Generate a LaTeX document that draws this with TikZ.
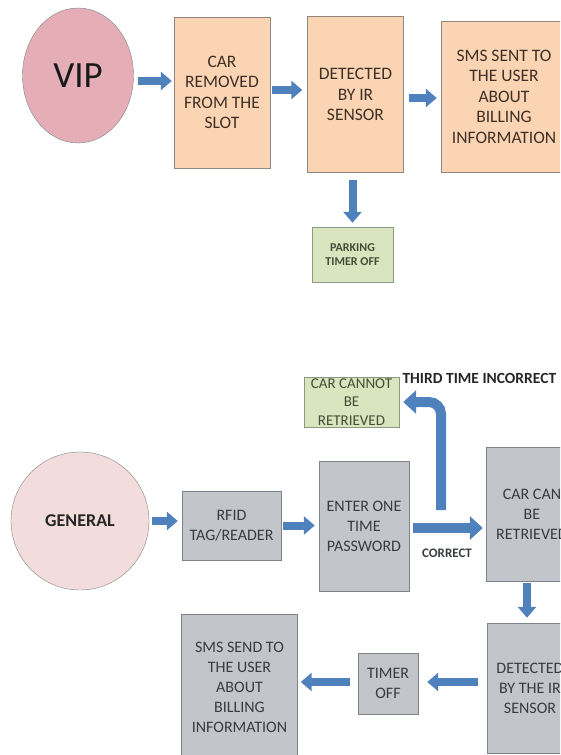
\documentclass[tikz,border=0pt]{standalone}
\usepackage{fontspec}
\setmainfont{Carlito}
\usetikzlibrary{arrows.meta,shapes.geometric}

\definecolor{peach}{HTML}{FBD4B4}
\definecolor{peachline}{HTML}{8E8680}
\definecolor{vippink}{HTML}{E5AEB7}
\definecolor{genpink}{HTML}{F2DDDC}
\definecolor{boxgray}{HTML}{C2C5C9}
\definecolor{grayline}{HTML}{7D8388}
\definecolor{palegreen}{HTML}{D8E5BE}
\definecolor{greenline}{HTML}{8C9A80}
\definecolor{arrowblue}{HTML}{4F81BD}
\definecolor{browntext}{HTML}{3F3026}
\definecolor{graytext}{HTML}{383C40}
\definecolor{greentext}{HTML}{464C38}

\tikzset{
  peachbox/.style={draw=peachline, fill=peach, text=browntext, align=center,
    inner sep=0pt, font=\fontsize{17.5}{20.5}\selectfont},
  graybox/.style={draw=grayline, fill=boxgray, text=graytext, align=center,
    inner sep=0pt, font=\fontsize{16}{20}\selectfont},
  greenbox/.style={draw=greenline, fill=palegreen, text=greentext, align=center,
    inner sep=0pt},
  barrow/.style={draw=arrowblue, line width=8pt, -{Triangle[width=18pt,length=11pt]}},
  bigarrow/.style={draw=arrowblue, line width=10pt, -{Triangle[width=23pt,length=13pt]}},
  steplabel/.style={text=graytext, font=\bfseries\fontsize{13}{15}\selectfont},
}

\begin{document}
\begin{tikzpicture}[x=1pt,y=-1pt]
\useasboundingbox (0,0) rectangle (560,755);
\clip (0,0) rectangle (560,755);

% VIP flow
\node[ellipse, draw=grayline, fill=vippink, minimum width=111pt, minimum height=135pt,
  inner sep=0pt, text=black!90, font=\fontsize{37}{40}\selectfont] (vip) at (78,75.5) {VIP};
\node[peachbox, minimum width=96pt, minimum height=151pt] (car) at (222,92.5)
  {CAR\\REMOVED\\FROM THE\\SLOT};
\node[peachbox, minimum width=96pt, minimum height=156pt] (det) at (355.5,94.5)
  {DETECTED\\BY IR\\SENSOR};
\node[peachbox, minimum width=126pt, minimum height=151pt] (sms) at (504,96.5)
  {SMS SENT TO\\THE USER\\ABOUT\\BILLING\\INFORMATION};
\node[greenbox, minimum width=81pt, minimum height=55pt,
  font=\bfseries\fontsize{12}{14}\selectfont] (park) at (352.5,254.5) {PARKING\\TIMER OFF};

\draw[barrow, shorten <=4pt, shorten >=2pt] (vip.east |- 0,81) -- (car.west |- 0,81);
\draw[barrow, shorten <=2pt, shorten >=5pt] (car.east |- 0,90) -- (det.west |- 0,90);
\draw[barrow, shorten <=5pt, shorten >=4pt] (det.east |- 0,98) -- (sms.west |- 0,98);
\draw[barrow, shorten <=7pt, shorten >=4pt] (det.south -| park.north) -- (park.north);

% general flow
\node[circle, draw=grayline, fill=genpink, minimum size=138pt, inner sep=0pt,
  text=black!85, font=\bfseries\fontsize{18}{20}\selectfont] (gen) at (80,521) {GENERAL};
\node[graybox, minimum width=99pt, minimum height=69pt] (rfid) at (231.5,525.5)
  {RFID\\TAG/READER};
\node[graybox, minimum width=90pt, minimum height=130pt] (otp) at (364,526)
  {ENTER ONE\\TIME\\PASSWORD};
\node[greenbox, minimum width=95pt, minimum height=50pt,
  font=\fontsize{15}{18.5}\selectfont] (nogo) at (351.5,402) {CAR CANNOT\\BE\\RETRIEVED};
\node[graybox, minimum width=92pt, minimum height=134pt] (go) at (532,514)
  {CAR CAN\\BE\\RETRIEVED};
\node[graybox, minimum width=86pt, minimum height=130pt] (irdet) at (530,688)
  {DETECTED\\BY THE IR\\SENSOR};
\node[graybox, minimum width=60pt, minimum height=61pt] (timer) at (388,683.5)
  {TIMER\\OFF};
\node[graybox, minimum width=116pt, minimum height=146pt] (smsend) at (239.5,687)
  {SMS SEND TO\\THE USER\\ABOUT\\BILLING\\INFORMATION};

\coordinate (split) at (441,510);
\node[steplabel, anchor=west, text=black!85, font=\bfseries\fontsize{15.5}{17}\selectfont]
  (third) at (399,378) {THIRD TIME INCORRECT};
\node[steplabel] (right) at (447,553) {CORRECT};

\draw[barrow, shorten <=3pt, shorten >=4pt] (gen.east) -- (rfid.west |- gen.east);
\draw[barrow, shorten <=2pt, shorten >=4pt] (rfid.east) -- (otp.west |- rfid.east);
\draw[bigarrow, shorten <=4pt, shorten >=3pt] (otp.east |- 0,528) -- (go.west |- 0,528);
\draw[bigarrow, rounded corners=12pt, shorten >=4pt] (split) |- (nogo.east);
\draw[barrow, shorten <=2pt, shorten >=5pt] (go.south -| 527,0) -- (irdet.north -| 527,0);
\draw[barrow, shorten <=9pt, shorten >=9pt] (irdet.west |- 0,682) -- (timer.east |- 0,682);
\draw[barrow, shorten <=8pt, shorten >=3pt] (timer.west |- 0,682) -- (smsend.east |- 0,682);
\end{tikzpicture}
\end{document}
